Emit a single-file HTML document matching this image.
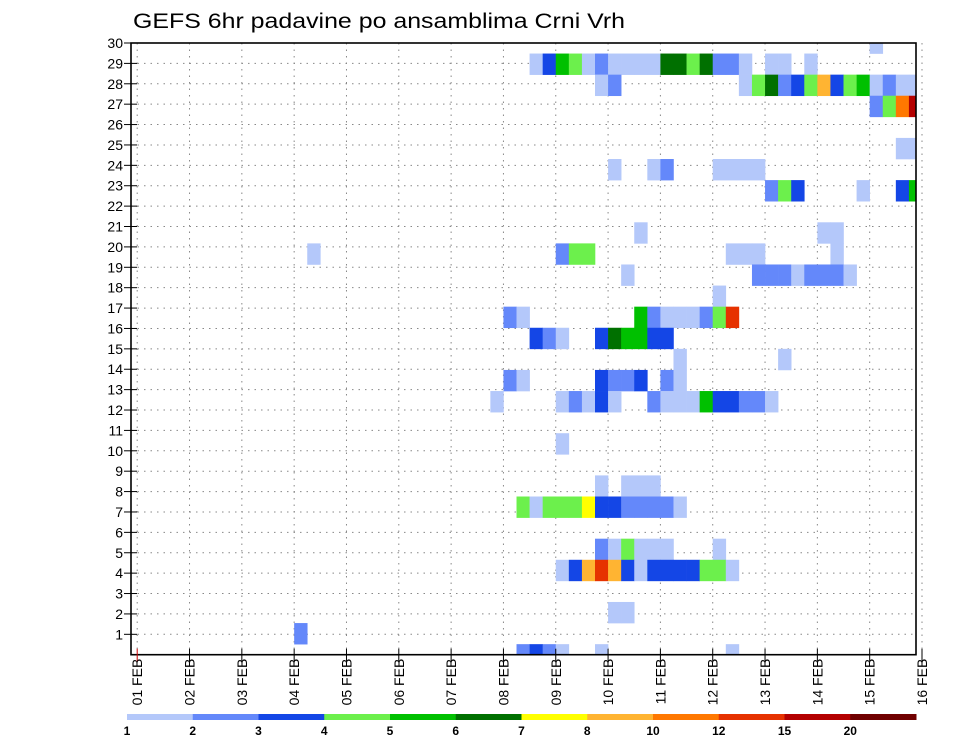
<!DOCTYPE html>
<html><head><meta charset="utf-8"><style>
html,body{margin:0;padding:0;background:#fff;}
svg{display:block;font-family:"Liberation Sans","DejaVu Sans",sans-serif;}
</style></head><body>
<svg id="chart" width="960" height="742" viewBox="0 0 960 742">
<text x="133" y="28" font-size="21" textLength="492" lengthAdjust="spacingAndGlyphs">GEFS 6hr padavine po ansamblima Crni Vrh</text>
<g id="grid"></g>
<g id="cells"></g>
<rect x="131" y="43" width="785" height="611.7" fill="none" stroke="#000" stroke-width="1.6"/>
<g id="yaxis"></g>
<g id="xaxis"></g>
<g id="legend"></g>
</svg>
<script>
// ---- data ----
const dayLabels = ["01 FEB","02 FEB","03 FEB","04 FEB","05 FEB","06 FEB","07 FEB","08 FEB","09 FEB","10 FEB","11 FEB","12 FEB","13 FEB","14 FEB","15 FEB","16 FEB"];
const memberLabels = [1,2,3,4,5,6,7,8,9,10,11,12,13,14,15,16,17,18,19,20,21,22,23,24,25,26,27,28,29,30];
const legendLevels = [1,2,3,4,5,6,7,8,10,12,15,20];
const legendColors = ["#b4c8fa","#6488fa","#1446e6","#6cf04c","#00c000","#007000","#ffff00","#ffb432","#ff7800","#e63200","#b40000","#700000"];
// cell member index (row), 6-hour step index (column), precipitation value (mm)
const cellMember = [
29,
28,28,28,28,28,28,28,28,28,28,28,28,28,28,28,28,28,28,28,28,
27,27,27,27,27,27,27,27,27,27,27,27,27,27,27,27,
26,26,26,26,
24,24,
23,23,23,23,23,23,23,
22,22,22,22,22,22,
20,20,20,
19,19,19,19,19,19,19,19,
18,18,18,18,18,18,18,18,18,
17,
16,16,16,16,16,16,16,16,16,16,
15,15,15,15,15,15,15,15,15,
14,14,
13,13,13,13,13,13,13,13,
12,12,12,12,12,12,12,12,12,12,12,12,12,12,12,12,
10,
8,8,8,8,
7,7,7,7,7,7,7,7,7,7,7,7,7,
5,5,5,5,5,5,5,
4,4,4,4,4,4,4,4,4,4,4,4,4,4,
2,2,
1,
0,0,0,0,0,0];
const cellStep = [
56,
30,31,32,33,34,35,36,37,38,39,40,41,42,43,44,45,46,48,49,51,
35,36,46,47,48,49,50,51,52,53,54,55,56,57,58,59,
56,57,58,59,
58,59,
36,39,40,44,45,46,47,
48,49,50,55,58,59,
38,52,53,
13,32,33,34,45,46,47,53,
37,47,48,49,50,51,52,53,54,
44,
28,29,38,39,40,41,42,43,44,45,
30,31,32,35,36,37,38,39,40,
41,49,
28,29,35,36,37,38,40,41,
27,32,33,34,35,36,39,40,41,42,43,44,45,46,47,48,
32,
35,37,38,39,
29,30,31,32,33,34,35,36,37,38,39,40,41,
35,36,37,38,39,40,44,
32,33,34,35,36,37,38,39,40,41,42,43,44,45,
36,37,
12,
29,30,31,32,35,45];
const cellValue = [
1.5,
1.5,3.5,5.5,4.5,1.5,2.5,1.5,1.5,1.5,1.5,6.5,6.5,4.5,6.5,2.5,2.5,1.5,1.5,1.5,1.5,
1.5,2.5,1.5,4.5,6.5,2.5,3.5,4.5,9,3.5,4.5,5.5,1.5,2.5,1.5,1.5,
2.5,4.5,11,17,
1.5,1.5,
1.5,1.5,2.5,1.5,1.5,1.5,1.5,
2.5,4.5,3.5,1.5,3.5,5.5,
1.5,1.5,1.5,
1.5,2.5,4.5,4.5,1.5,1.5,1.5,1.5,
1.5,2.5,2.5,2.5,1.5,2.5,2.5,2.5,1.5,
1.5,
2.5,1.5,5.5,2.5,1.5,1.5,1.5,2.5,4.5,13,
3.5,2.5,1.5,3.5,6.5,5.5,5.5,3.5,3.5,
1.5,1.5,
2.5,1.5,3.5,2.5,2.5,3.5,2.5,1.5,
1.5,1.5,2.5,1.5,3.5,1.5,2.5,1.5,1.5,1.5,5.5,3.5,3.5,2.5,2.5,1.5,
1.5,
1.5,1.5,1.5,1.5,
4.5,1.5,4.5,4.5,4.5,7.5,3.5,3.5,2.5,2.5,2.5,2.5,1.5,
2.5,1.5,4.5,1.5,1.5,1.5,1.5,
1.5,3.5,9,13,9,3.5,1.5,3.5,3.5,3.5,3.5,4.5,4.5,1.5,
1.5,1.5,
2.5,
2.5,3.5,2.5,1.5,1.5,1.5];
</script>
<script>
const NS="http://www.w3.org/2000/svg";
const PL=131,PR=916,PT=43,PB=654.7;
const X0=137.2, DAY=52.32, STEP=DAY/4;
function xDay(d){return X0+d*DAY;}
function xStep(s){return X0+s*STEP;}
function yLabel(r){return PB-r*((PB-PT)/30);}
const CELLH=(PB-PT)/29;
function yMember(m){return PB-m*CELLH;}
function colorFor(v){let i=0;for(let k=0;k<legendLevels.length;k++){if(v>=legendLevels[k])i=k;}return legendColors[i];}
function mk(tag,attrs,parent){const e=document.createElementNS(NS,tag);for(const k in attrs)e.setAttribute(k,attrs[k]);parent.appendChild(e);return e;}

const grid=document.getElementById('grid');
memberLabels.forEach((m,i)=>{
  const y=yLabel(m);
  const l=mk('line',{x1:PL,x2:PR,y1:y,y2:y,stroke:'#888','stroke-width':1,'stroke-dasharray':'1.5 5'},grid);
  
  
});
dayLabels.forEach((d,i)=>{
  const x=xDay(i);
  const l=mk('line',{x1:x,x2:x,y1:PT,y2:PB,stroke:'#888','stroke-width':1,'stroke-dasharray':'1.5 5'},grid);
  
  
});

const cells=document.getElementById('cells');
const clip=mk('clipPath',{id:'pc'},document.getElementById('chart'));
mk('rect',{x:PL,y:PT,width:PR-PL,height:PB-PT},clip);
cells.setAttribute('clip-path','url(#pc)');
for(let i=0;i<cellMember.length;i++){
  const yc=yMember(cellMember[i]);
  const r=mk('rect',{x:xStep(cellStep[i]),y:yc-CELLH/2,width:STEP+0.3,height:CELLH+0.3,fill:colorFor(cellValue[i])},cells);
  
  
}

const ya=document.getElementById('yaxis');
memberLabels.forEach(m=>{
  const y=yLabel(m);
  const t=mk('line',{x1:124,x2:137,y1:y,y2:y,stroke:'#000','stroke-width':1},ya);
  
  
  const tx=mk('text',{x:123,y:y+5,'font-size':14,'text-anchor':'end'},ya);
  tx.textContent=m;
  
  
});

const xa=document.getElementById('xaxis');
dayLabels.forEach((d,i)=>{
  const x=xDay(i);
  const t=mk('line',{x1:x,x2:x,y1:PB-6,y2:PB+7,stroke:i===0?'#c00':'#000','stroke-width':1},xa);
  
  
  const tx=mk('text',{x:0,y:0,'font-size':14,'text-anchor':'end',transform:`translate(${x+5},${PB+4}) rotate(-90)`},xa);
  tx.textContent=d;
  
  
});

const lg=document.getElementById('legend');
const LX=127,LW=(916-127)/legendColors.length;
legendColors.forEach((c,i)=>{
  const r=mk('rect',{x:LX+i*LW,y:714,width:LW+0.5,height:6,fill:c},lg);
  
  
});
legendLevels.forEach((v,i)=>{
  const t=mk('text',{x:LX+i*LW,y:735,'font-size':12,'text-anchor':'middle','font-weight':'bold'},lg);
  t.textContent=v;
  
  
});
</script>
</body></html>
